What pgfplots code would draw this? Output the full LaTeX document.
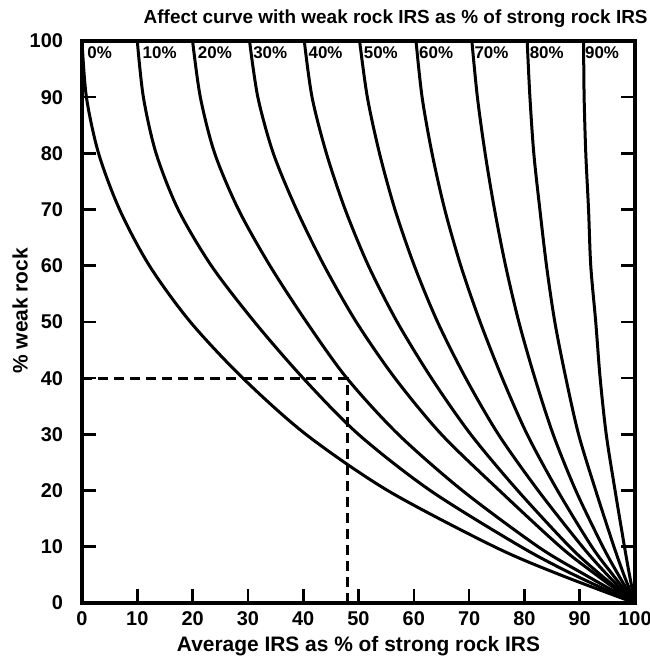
\documentclass[border=0pt]{standalone}
\usepackage{fontspec}
\setmainfont{Liberation Sans}
\usepackage{pgfplots}
\pgfplotsset{compat=1.18}
\begin{document}
\begin{tikzpicture}
\begin{axis}[
  name=ax, at={(0,0)}, anchor=south west,
  scale only axis, width=276.5bp, height=281bp,
  xmin=0, xmax=100, ymin=0, ymax=100,
  xtick={0,10,...,100}, ytick={0,10,...,100},
  tick align=inside, major tick length=7bp,
  xtick pos=bottom, ytick pos=both,
  axis line style={line width=1.6bp},
  tick style={line width=1.3bp, black},
  ticklabel style={font=\bfseries\fontsize{10}{12}\selectfont},
  /pgf/number format/assume math mode=true,
  yticklabel style={xshift=-6bp},
  xticklabel style={yshift=-1bp},
  xlabel={Average IRS as \% of strong rock IRS},
  ylabel={\% weak rock},
  label style={font=\bfseries\fontsize{10.5}{12}\selectfont},
  xlabel style={at={(axis description cs:0.5,-0.077)}, anchor=center},
  ylabel style={at={(axis description cs:-0.112,0.52)}, anchor=center},
  every axis plot/.append style={black, line width=1.5bp},
]
% 0 %
\addplot[smooth] coordinates {(0,100) (0.8,90) (3.0,80) (6.8,70) (12.2,60) (19.6,50) (29.1,40) (40.5,30) (55.3,20) (74.6,10) (86.5,5) (100,0)};
% 10 %
\addplot[smooth] coordinates {(10,100) (11.1,90) (13.4,80) (17.4,70) (23.4,60) (31.2,50) (40,40) (50,30) (63,20) (79.4,10) (89,5) (100,0)};
% 20 %
\addplot[smooth] coordinates {(20,100) (21.4,90) (24,80) (28.3,70) (34,60) (40.6,50) (47.9,40) (57.2,30) (68.8,20) (82.5,10) (91,5) (100,0)};
% 30 %
\addplot[smooth] coordinates {(30.3,100) (31.8,90) (34.6,80) (38.8,70) (43.8,60) (49.6,50) (56.6,40) (65,30) (75.5,20) (86.5,10) (93,5) (100,0)};
% 40 %
\addplot[smooth] coordinates {(40.2,100) (41.6,90) (44.2,80) (47.6,70) (51.8,60) (57,50) (63.2,40) (70.3,30) (78.8,20) (88.2,10) (93.8,5) (100,0)};
% 50 %
\addplot[smooth] coordinates {(50.2,100) (51.6,90) (53.8,80) (56.6,70) (60.1,60) (64.3,50) (69.4,40) (75.3,30) (82.5,20) (90.5,10) (95,5) (100,0)};
% 60 %
\addplot[smooth] coordinates {(60.4,100) (61.5,90) (63.3,80) (65.6,70) (68.5,60) (72,50) (76,40) (80.5,30) (86,20) (92.2,10) (96,5) (100,0)};
% 70 %
\addplot[smooth] coordinates {(70.5,100) (71.5,90) (72.9,80) (74.6,70) (76.6,60) (79,50) (81.9,40) (85.2,30) (89.3,20) (94.2,10) (97,5) (100,0)};
% 80 %
\addplot[smooth] coordinates {(80.5,100) (81,90) (81.7,80) (82.8,70) (84,60) (85.5,50) (87.5,40) (89.8,30) (92.9,20) (96.2,10) (98,5) (100,0)};
% 90 %
\addplot[smooth] coordinates {(90.7,100) (90.8,90) (91.1,80) (91.6,70) (92,60) (92.9,50) (93.7,40) (94.8,30) (96.4,20) (98.1,10) (99,5) (100,0)};
% worked example
\addplot[line width=1.4bp, dash pattern=on 5bp off 3bp] coordinates {(0,40) (48,40) (48,0)};
\pgfplotsinvokeforeach{0,10,20,30,40,50,60,70,80,90}{
  \node[anchor=north west, inner sep=0pt, xshift=2.5bp, font=\bfseries\fontsize{8.5}{10}\selectfont] at (axis cs:#1,99) {#1\%};
}
\end{axis}
\node[anchor=east, inner sep=0pt, font=\bfseries\fontsize{9.5}{11}\selectfont] at ([shift={(6.5bp,11bp)}]ax.north east) {Affect curve with weak rock IRS as \% of strong rock IRS};
\pgfresetboundingbox
\path[use as bounding box] ([shift={(-41bp,-27bp)}]ax.south west) rectangle ([shift={(7.5bp,20.5bp)}]ax.north east);
\end{tikzpicture}
\end{document}
